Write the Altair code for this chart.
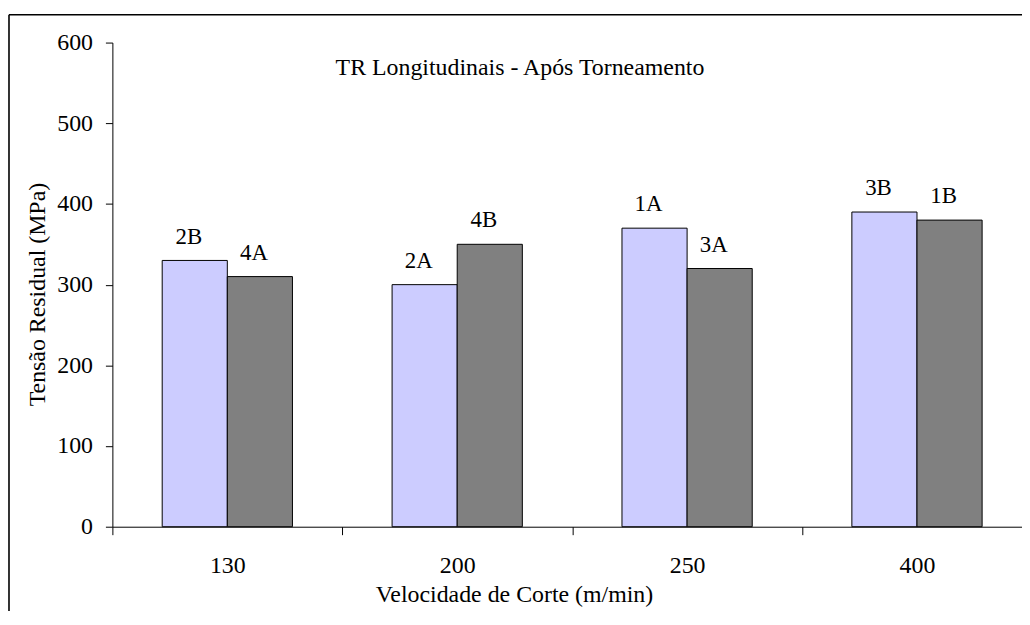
import altair as alt
import pandas as pd

# Data
velocidades = ["130", "200", "250", "400"]
serie_clara = [330, 300, 370, 390]
serie_escura = [310, 350, 320, 380]
rotulos_clara = ["2B", "2A", "1A", "3B"]
rotulos_escura = ["4A", "4B", "3A", "1B"]
y_ticks = [0, 100, 200, 300, 400, 500, 600]
titulo = "TR Longitudinais - Após Torneamento"

rows = []
for v, a, b, la, lb in zip(velocidades, serie_clara, serie_escura, rotulos_clara, rotulos_escura):
    rows.append({"vel": v, "serie": "a", "valor": a, "rotulo": la})
    rows.append({"vel": v, "serie": "b", "valor": b, "rotulo": lb})
df = pd.DataFrame(rows)

FONT = "Liberation Serif"
W, H = 915, 487

x_scale = alt.Scale(range=[0, 925], paddingInner=0, paddingOuter=0)
x_enc = alt.X(
    "vel:N",
    sort=velocidades,
    scale=x_scale,
    axis=alt.Axis(
        title="Velocidade de Corte (m/min)",
        labelAngle=0,
        tickBand="extent",
        tickSize=8,
        labelPadding=19,
        titleX=404,
        titleY=75,
        titleAlign="center",
        titleBaseline="alphabetic",
    ),
)
xoff = alt.XOffset(
    "serie:N",
    scale=alt.Scale(paddingInner=0, paddingOuter=0.765),
    sort=["a", "b"],
)
y_enc = alt.Y(
    "valor:Q",
    scale=alt.Scale(domain=[0, 600], nice=False),
    axis=alt.Axis(
        title="Tensão Residual (MPa)",
        values=y_ticks,
        grid=False,
        tickSize=7,
        labelPadding=13,
        titleX=-68,
        titleY=253,
        titleAlign="center",
        titleBaseline="alphabetic",
        titleAngle=270,
    ),
)

bars = alt.Chart(df).mark_bar(stroke="#000000", strokeWidth=1).encode(
    x=x_enc,
    xOffset=xoff,
    y=y_enc,
    color=alt.Color(
        "serie:N",
        scale=alt.Scale(domain=["a", "b"], range=["#CCCCFF", "#808080"]),
        legend=None,
    ),
)

labels = alt.Chart(df).mark_text(
    font=FONT, fontSize=23, color="#000000", dy=-17, dx=-6, baseline="alphabetic"
).encode(
    x=alt.X("vel:N", sort=velocidades, scale=x_scale),
    xOffset=xoff,
    y="valor:Q",
    text="rotulo:N",
)

title_df = pd.DataFrame({"t": [titulo]})
title_mark = alt.Chart(title_df).mark_text(
    font=FONT, fontSize=24, color="#000000", baseline="alphabetic", align="center"
).encode(x=alt.value(410), y=alt.value(33), text="t:N")

border_top = alt.Chart(title_df).mark_rule(color="#000000", strokeWidth=1.6).encode(
    x=alt.value(-104), x2=alt.value(W + 10), y=alt.value(-28)
)
border_left = alt.Chart(title_df).mark_rule(color="#000000", strokeWidth=1.6).encode(
    x=alt.value(-104), y=alt.value(-28), y2=alt.value(H + 90)
)

chart = (
    alt.layer(bars, labels, title_mark, border_top, border_left)
    .properties(
        width=W,
        height=H,
        autosize=alt.AutoSizeParams(type="none"),
        padding={"left": 105, "top": 33, "right": 0, "bottom": 83},
        background="#ffffff",
    )
    .configure_view(stroke=None)
    .configure_text(font=FONT)
    .configure_axis(
        labelFont=FONT,
        titleFont=FONT,
        labelFontSize=24,
        titleFontSize=24,
        titleFontWeight="normal",
        labelColor="#000000",
        titleColor="#000000",
        domainColor="#000000",
        tickColor="#000000",
        domainWidth=1,
        tickWidth=1,
    )
)

chart.save("out.html", embed_options={"renderer": "svg", "actions": False})
